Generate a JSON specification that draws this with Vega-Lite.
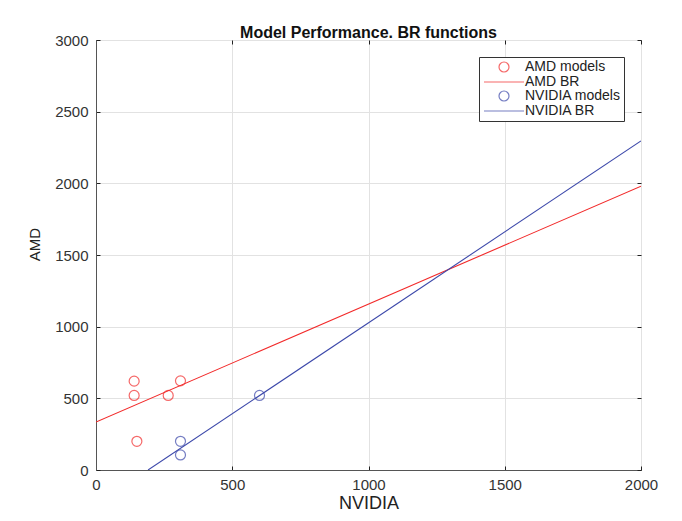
{
  "$schema": "https://vega.github.io/schema/vega-lite/v6.json",
  "width": 545,
  "height": 430,
  "autosize": {"type": "none"},
  "padding": {"left": 96, "top": 40, "right": 41, "bottom": 51},
  "background": "white",
  "title": {"text": "Model Performance. BR functions", "fontSize": 16, "fontWeight": "bold", "font": "Liberation Sans", "color": "#111", "offset": -8, "anchor": "middle"},
  "data": {"values": [
    {"series": "AMD models", "kind": "point", "nvidia": 140, "amd": 620},
    {"series": "AMD models", "kind": "point", "nvidia": 140, "amd": 520},
    {"series": "AMD models", "kind": "point", "nvidia": 265, "amd": 520},
    {"series": "AMD models", "kind": "point", "nvidia": 310, "amd": 622},
    {"series": "AMD models", "kind": "point", "nvidia": 150, "amd": 200},
    {"series": "NVIDIA models", "kind": "point", "nvidia": 310, "amd": 200},
    {"series": "NVIDIA models", "kind": "point", "nvidia": 310, "amd": 105},
    {"series": "NVIDIA models", "kind": "point", "nvidia": 600, "amd": 520},
    {"series": "AMD BR", "kind": "line", "nvidia": 0, "amd": 335},
    {"series": "AMD BR", "kind": "line", "nvidia": 2000, "amd": 1980},
    {"series": "NVIDIA BR", "kind": "line", "nvidia": 191, "amd": 0},
    {"series": "NVIDIA BR", "kind": "line", "nvidia": 2000, "amd": 2296}
  ]},
  "layer": [
    {
      "transform": [{"filter": "datum.kind === 'line'"}],
      "mark": {"type": "line", "strokeWidth": 1.1, "clip": true},
      "encoding": {
        "x": {"field": "nvidia", "type": "quantitative", "scale": {"domain": [0, 2000], "nice": false}, "axis": {"title": "NVIDIA", "titleFontSize": 18, "format": "d", "values": [0, 500, 1000, 1500, 2000], "labelPadding": 11, "titlePadding": 2}},
        "y": {"field": "amd", "type": "quantitative", "scale": {"domain": [0, 3000], "nice": false}, "axis": {"title": "AMD", "titleFontSize": 15, "titleY": 204, "format": "d", "values": [0, 500, 1000, 1500, 2000, 2500, 3000], "labelPadding": 12, "titlePadding": 12}},
        "color": {"field": "series", "type": "nominal", "scale": {"domain": ["AMD models", "AMD BR", "NVIDIA models", "NVIDIA BR"], "range": ["#f22a2a", "#f22a2a", "#3c48aa", "#3c48aa"]}, "legend": {"title": null}},
        "detail": {"field": "series"}
      }
    },
    {
      "transform": [{"filter": "datum.kind === 'point'"}],
      "mark": {"type": "point", "filled": false, "size": 100, "strokeWidth": 1.2},
      "encoding": {
        "x": {"field": "nvidia", "type": "quantitative", "axis": {"orient": "top", "title": null, "labels": false, "grid": false, "domain": false, "values": [0, 500, 1000, 1500, 2000]}},
        "y": {"field": "amd", "type": "quantitative", "axis": {"orient": "right", "title": null, "labels": false, "grid": false, "domain": false, "values": [0, 500, 1000, 1500, 2000, 2500, 3000]}},
        "color": {"field": "series", "type": "nominal", "legend": {"title": null}},
        "shape": {"field": "series", "type": "nominal", "scale": {"domain": ["AMD models", "AMD BR", "NVIDIA models", "NVIDIA BR"], "range": ["circle", "M-4,0L4,0", "circle", "M-4,0L4,0"]}, "legend": {"title": null}}
      }
    }
  ],
  "resolve": {"axis": {"x": "independent", "y": "independent"}},
  "config": {
    "view": {"stroke": "#555", "strokeWidth": 1},
    "axis": {"labelFont": "Liberation Sans", "labelFontSize": 15, "titleFont": "Liberation Sans", "titleFontSize": 16, "titleFontWeight": "normal", "labelColor": "#333", "titleColor": "#222", "domainColor": "#555", "tickColor": "#222", "gridColor": "#e2e2e2", "tickSize": -4, "labelFlush": false},
    "legend": {"orient": "top-right", "offset": 17, "strokeColor": "#333", "fillColor": "white", "padding": 3, "cornerRadius": 0, "labelFont": "Liberation Sans", "labelFontSize": 14, "labelColor": "#222", "rowPadding": -2, "symbolSize": 100, "symbolStrokeWidth": 1.2, "symbolOffset": 15, "labelOffset": 14}
  }
}
